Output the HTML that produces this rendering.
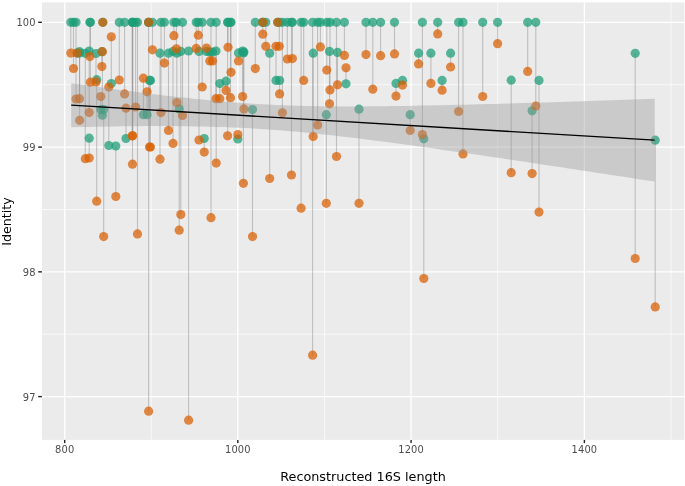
<!DOCTYPE html><html><head><meta charset="utf-8"><title>plot</title><style>html,body{margin:0;padding:0;background:#fff}svg{display:block}text{font-family:"DejaVu Sans","Liberation Sans",sans-serif}</style></head><body>
<svg width="685" height="486" viewBox="0 0 685 486">
<rect x="0" y="0" width="685" height="486" fill="#fff"/>
<rect x="41.9" y="2.4" width="642.4" height="437.5" fill="#EBEBEB"/>
<clipPath id="c"><rect x="41.9" y="2.4" width="642.4" height="437.5"/></clipPath>
<g stroke="#fff" stroke-opacity="0.95" stroke-width="0.7">
<line x1="151.2" y1="2.4" x2="151.2" y2="439.9"/>
<line x1="324.5" y1="2.4" x2="324.5" y2="439.9"/>
<line x1="497.7" y1="2.4" x2="497.7" y2="439.9"/>
<line x1="671.0" y1="2.4" x2="671.0" y2="439.9"/>
<line x1="41.9" y1="84.7" x2="684.3" y2="84.7"/>
<line x1="41.9" y1="209.5" x2="684.3" y2="209.5"/>
<line x1="41.9" y1="334.2" x2="684.3" y2="334.2"/>
</g><g stroke="#fff" stroke-width="1.3">
<line x1="64.7" y1="2.4" x2="64.7" y2="439.9"/>
<line x1="237.8" y1="2.4" x2="237.8" y2="439.9"/>
<line x1="411.1" y1="2.4" x2="411.1" y2="439.9"/>
<line x1="584.4" y1="2.4" x2="584.4" y2="439.9"/>
<line x1="41.9" y1="22.3" x2="684.3" y2="22.3"/>
<line x1="41.9" y1="147.1" x2="684.3" y2="147.1"/>
<line x1="41.9" y1="271.85" x2="684.3" y2="271.85"/>
<line x1="41.9" y1="396.6" x2="684.3" y2="396.6"/>
</g>
<g stroke="#808080" stroke-opacity="0.42" stroke-width="1.1">
<line x1="70.8" y1="22.3" x2="70.8" y2="53.1"/>
<line x1="73.5" y1="22.3" x2="73.5" y2="68.5"/>
<line x1="76" y1="22.3" x2="76" y2="99"/>
<line x1="79.5" y1="51.7" x2="79.5" y2="98.7"/>
<line x1="79.6" y1="53.1" x2="79.6" y2="120.3"/>
<line x1="85.3" y1="53.3" x2="85.3" y2="158.7"/>
<line x1="89.9" y1="22.3" x2="89.9" y2="56.6"/>
<line x1="90.4" y1="22.3" x2="90.4" y2="82.2"/>
<line x1="89.2" y1="51" x2="89.2" y2="112.6"/>
<line x1="89.2" y1="138.2" x2="89.2" y2="158"/>
<line x1="96" y1="53.5" x2="96" y2="81.9"/>
<line x1="96.7" y1="79.7" x2="96.7" y2="201.2"/>
<line x1="101.9" y1="51.7" x2="101.9" y2="66.6"/>
<line x1="102.4" y1="115.2" x2="102.4" y2="51.7"/>
<line x1="100.8" y1="109.6" x2="100.8" y2="96.5"/>
<line x1="103.7" y1="109.6" x2="103.7" y2="236.6"/>
<line x1="108.8" y1="145.5" x2="108.8" y2="87"/>
<line x1="111.3" y1="83.6" x2="111.3" y2="36.8"/>
<line x1="115.8" y1="146" x2="115.8" y2="196.5"/>
<line x1="119.3" y1="22.3" x2="119.3" y2="80"/>
<line x1="124.6" y1="22.3" x2="124.6" y2="93.9"/>
<line x1="126" y1="138.5" x2="126" y2="108.2"/>
<line x1="132.2" y1="22.3" x2="132.2" y2="135.8"/>
<line x1="132.8" y1="22.3" x2="132.8" y2="135.8"/>
<line x1="132.5" y1="22.3" x2="132.5" y2="164.2"/>
<line x1="135.6" y1="22.3" x2="135.6" y2="107"/>
<line x1="137.5" y1="22.3" x2="137.5" y2="233.9"/>
<line x1="143.4" y1="114.7" x2="143.4" y2="78.2"/>
<line x1="147.1" y1="114.7" x2="147.1" y2="91.8"/>
<line x1="148.6" y1="22.3" x2="148.6" y2="411.2"/>
<line x1="149.5" y1="80.4" x2="149.5" y2="147"/>
<line x1="150.5" y1="80.4" x2="150.5" y2="147"/>
<line x1="152.4" y1="22.3" x2="152.4" y2="49.8"/>
<line x1="160.0" y1="53.2" x2="160.0" y2="159.2"/>
<line x1="161.0" y1="22.3" x2="161.0" y2="112.6"/>
<line x1="164.4" y1="22.3" x2="164.4" y2="63.1"/>
<line x1="168.5" y1="53.2" x2="168.5" y2="130.4"/>
<line x1="173.9" y1="22.3" x2="173.9" y2="35.7"/>
<line x1="173" y1="51.4" x2="173" y2="143.4"/>
<line x1="176.4" y1="22.3" x2="176.4" y2="48.8"/>
<line x1="176.8" y1="53.2" x2="176.8" y2="102.6"/>
<line x1="180.8" y1="51.4" x2="180.8" y2="214.6"/>
<line x1="179.2" y1="108.9" x2="179.2" y2="230.2"/>
<line x1="182.5" y1="22.3" x2="182.5" y2="115.5"/>
<line x1="188.6" y1="51" x2="188.6" y2="420.2"/>
<line x1="196.2" y1="22.3" x2="196.2" y2="48.4"/>
<line x1="198.3" y1="22.3" x2="198.3" y2="35.2"/>
<line x1="199" y1="51.4" x2="199" y2="140"/>
<line x1="202.2" y1="22.3" x2="202.2" y2="87"/>
<line x1="204.2" y1="138.5" x2="204.2" y2="152.1"/>
<line x1="206.5" y1="51.4" x2="206.5" y2="48.1"/>
<line x1="211" y1="22.3" x2="211" y2="217.7"/>
<line x1="212.5" y1="52" x2="212.5" y2="60.9"/>
<line x1="209.8" y1="52" x2="209.8" y2="60.9"/>
<line x1="216.2" y1="22.3" x2="216.2" y2="163.1"/>
<line x1="216" y1="51" x2="216" y2="98.7"/>
<line x1="219.8" y1="83.6" x2="219.8" y2="98.7"/>
<line x1="226" y1="81.2" x2="226" y2="90.4"/>
<line x1="227.6" y1="22.3" x2="227.6" y2="135.8"/>
<line x1="228.0" y1="22.3" x2="228.0" y2="47.3"/>
<line x1="230.5" y1="22.3" x2="230.5" y2="97.7"/>
<line x1="231" y1="22.3" x2="231" y2="72.3"/>
<line x1="237.8" y1="139" x2="237.8" y2="134.6"/>
<line x1="238.5" y1="52.9" x2="238.5" y2="61"/>
<line x1="242.6" y1="51" x2="242.6" y2="96.5"/>
<line x1="243.4" y1="53" x2="243.4" y2="183.3"/>
<line x1="243.9" y1="52" x2="243.9" y2="108.9"/>
<line x1="252.5" y1="109.6" x2="252.5" y2="236.6"/>
<line x1="255.3" y1="22.3" x2="255.3" y2="68.6"/>
<line x1="262.8" y1="22.3" x2="262.8" y2="34.2"/>
<line x1="265.8" y1="22.3" x2="265.8" y2="46.3"/>
<line x1="269.7" y1="53.2" x2="269.7" y2="178.5"/>
<line x1="276" y1="80.4" x2="276" y2="46.3"/>
<line x1="279.3" y1="22.3" x2="279.3" y2="46.3"/>
<line x1="279.6" y1="80.4" x2="279.6" y2="93.9"/>
<line x1="282.4" y1="22.3" x2="282.4" y2="112.8"/>
<line x1="287.3" y1="22.3" x2="287.3" y2="59"/>
<line x1="292.4" y1="22.3" x2="292.4" y2="58.6"/>
<line x1="291.5" y1="22.3" x2="291.5" y2="175"/>
<line x1="301.1" y1="22.3" x2="301.1" y2="208.2"/>
<line x1="303.7" y1="22.3" x2="303.7" y2="80.4"/>
<line x1="312.6" y1="22.3" x2="312.6" y2="355.2"/>
<line x1="313.2" y1="53.2" x2="313.2" y2="136.4"/>
<line x1="317.6" y1="22.3" x2="317.6" y2="125"/>
<line x1="320.4" y1="22.3" x2="320.4" y2="46.9"/>
<line x1="326.3" y1="114.7" x2="326.3" y2="203.3"/>
<line x1="326.8" y1="22.3" x2="326.8" y2="70.1"/>
<line x1="330" y1="22.3" x2="330" y2="89.9"/>
<line x1="329.5" y1="51.4" x2="329.5" y2="103.8"/>
<line x1="336.5" y1="22.3" x2="336.5" y2="156.5"/>
<line x1="337.5" y1="52.4" x2="337.5" y2="84.8"/>
<line x1="344.4" y1="22.3" x2="344.4" y2="55.4"/>
<line x1="346" y1="83.8" x2="346" y2="67.8"/>
<line x1="359" y1="109.2" x2="359" y2="203.3"/>
<line x1="366" y1="22.3" x2="366" y2="54.6"/>
<line x1="372.8" y1="22.3" x2="372.8" y2="89.2"/>
<line x1="380.6" y1="22.3" x2="380.6" y2="55.7"/>
<line x1="394.5" y1="22.3" x2="394.5" y2="53.9"/>
<line x1="396" y1="83.4" x2="396" y2="96.1"/>
<line x1="402.5" y1="80.4" x2="402.5" y2="85.1"/>
<line x1="410.2" y1="114.7" x2="410.2" y2="130.4"/>
<line x1="418.6" y1="53.2" x2="418.6" y2="63.9"/>
<line x1="422.4" y1="22.3" x2="422.4" y2="134.6"/>
<line x1="423.8" y1="138.8" x2="423.8" y2="278.5"/>
<line x1="430.9" y1="53.2" x2="430.9" y2="83.4"/>
<line x1="437.7" y1="22.3" x2="437.7" y2="33.9"/>
<line x1="442.1" y1="80.4" x2="442.1" y2="90.2"/>
<line x1="450.6" y1="53.2" x2="450.6" y2="67"/>
<line x1="458.6" y1="22.3" x2="458.6" y2="111.5"/>
<line x1="463" y1="22.3" x2="463" y2="153.9"/>
<line x1="482.7" y1="22.3" x2="482.7" y2="96.5"/>
<line x1="497.6" y1="22.3" x2="497.6" y2="43.7"/>
<line x1="511.2" y1="80.2" x2="511.2" y2="172.7"/>
<line x1="527.7" y1="22.3" x2="527.7" y2="71.4"/>
<line x1="532.1" y1="110.8" x2="532.1" y2="173.6"/>
<line x1="535.8" y1="22.3" x2="535.8" y2="106"/>
<line x1="539" y1="80.4" x2="539" y2="212.1"/>
<line x1="635.2" y1="53.3" x2="635.2" y2="258.5"/>
<line x1="655.2" y1="140.2" x2="655.2" y2="306.9"/>
</g>
<g fill="#1B9E77" fill-opacity="0.73">
<circle cx="70.8" cy="22.3" r="4.6"/>
<circle cx="73.5" cy="22.3" r="4.6"/>
<circle cx="76" cy="22.3" r="4.6"/>
<circle cx="77.2" cy="53.1" r="4.6"/>
<circle cx="79.5" cy="51.7" r="4.6"/>
<circle cx="79.6" cy="53.1" r="4.6"/>
<circle cx="85.3" cy="53.3" r="4.6"/>
<circle cx="89.9" cy="22.3" r="4.6"/>
<circle cx="90.4" cy="22.3" r="4.6"/>
<circle cx="89.2" cy="51" r="4.6"/>
<circle cx="89.2" cy="138.2" r="4.6"/>
<circle cx="96" cy="53.5" r="4.6"/>
<circle cx="96.7" cy="79.7" r="4.6"/>
<circle cx="102.8" cy="22.3" r="4.6"/>
<circle cx="101.9" cy="51.7" r="4.6"/>
<circle cx="102.4" cy="115.2" r="4.6"/>
<circle cx="100.8" cy="109.6" r="4.6"/>
<circle cx="103.7" cy="109.6" r="4.6"/>
<circle cx="108.8" cy="145.5" r="4.6"/>
<circle cx="111.3" cy="83.6" r="4.6"/>
<circle cx="115.8" cy="146" r="4.6"/>
<circle cx="119.3" cy="22.3" r="4.6"/>
<circle cx="124.6" cy="22.3" r="4.6"/>
<circle cx="126" cy="138.5" r="4.6"/>
<circle cx="132.2" cy="22.3" r="4.6"/>
<circle cx="132.8" cy="22.3" r="4.6"/>
<circle cx="132.5" cy="22.3" r="4.6"/>
<circle cx="135.6" cy="22.3" r="4.6"/>
<circle cx="137.5" cy="22.3" r="4.6"/>
<circle cx="143.4" cy="114.7" r="4.6"/>
<circle cx="147.1" cy="114.7" r="4.6"/>
<circle cx="148.6" cy="22.3" r="4.6"/>
<circle cx="148.6" cy="22.3" r="4.6"/>
<circle cx="149.5" cy="80.4" r="4.6"/>
<circle cx="150.5" cy="80.4" r="4.6"/>
<circle cx="152.4" cy="22.3" r="4.6"/>
<circle cx="160.0" cy="53.2" r="4.6"/>
<circle cx="161.0" cy="22.3" r="4.6"/>
<circle cx="164.4" cy="22.3" r="4.6"/>
<circle cx="168.5" cy="53.2" r="4.6"/>
<circle cx="173.9" cy="22.3" r="4.6"/>
<circle cx="173" cy="51.4" r="4.6"/>
<circle cx="176.4" cy="22.3" r="4.6"/>
<circle cx="176.8" cy="53.2" r="4.6"/>
<circle cx="180.8" cy="51.4" r="4.6"/>
<circle cx="179.2" cy="108.9" r="4.6"/>
<circle cx="182.5" cy="22.3" r="4.6"/>
<circle cx="188.6" cy="51" r="4.6"/>
<circle cx="196.2" cy="22.3" r="4.6"/>
<circle cx="198.3" cy="22.3" r="4.6"/>
<circle cx="199" cy="51.4" r="4.6"/>
<circle cx="202.2" cy="22.3" r="4.6"/>
<circle cx="204.2" cy="138.5" r="4.6"/>
<circle cx="206.5" cy="51.4" r="4.6"/>
<circle cx="211" cy="22.3" r="4.6"/>
<circle cx="212.5" cy="52" r="4.6"/>
<circle cx="209.8" cy="52" r="4.6"/>
<circle cx="216.2" cy="22.3" r="4.6"/>
<circle cx="216" cy="51" r="4.6"/>
<circle cx="219.8" cy="83.6" r="4.6"/>
<circle cx="226" cy="81.2" r="4.6"/>
<circle cx="227.6" cy="22.3" r="4.6"/>
<circle cx="228.0" cy="22.3" r="4.6"/>
<circle cx="230.5" cy="22.3" r="4.6"/>
<circle cx="231" cy="22.3" r="4.6"/>
<circle cx="237.8" cy="139" r="4.6"/>
<circle cx="238.5" cy="52.9" r="4.6"/>
<circle cx="242.6" cy="51" r="4.6"/>
<circle cx="243.4" cy="53" r="4.6"/>
<circle cx="243.9" cy="52" r="4.6"/>
<circle cx="252.5" cy="109.6" r="4.6"/>
<circle cx="255.3" cy="22.3" r="4.6"/>
<circle cx="262.8" cy="22.3" r="4.6"/>
<circle cx="262.8" cy="22.3" r="4.6"/>
<circle cx="265.8" cy="22.3" r="4.6"/>
<circle cx="269.7" cy="53.2" r="4.6"/>
<circle cx="276" cy="80.4" r="4.6"/>
<circle cx="279.3" cy="22.3" r="4.6"/>
<circle cx="277.7" cy="22.3" r="4.6"/>
<circle cx="279.6" cy="80.4" r="4.6"/>
<circle cx="282.4" cy="22.3" r="4.6"/>
<circle cx="287.3" cy="22.3" r="4.6"/>
<circle cx="292.4" cy="22.3" r="4.6"/>
<circle cx="291.5" cy="22.3" r="4.6"/>
<circle cx="301.1" cy="22.3" r="4.6"/>
<circle cx="303.7" cy="22.3" r="4.6"/>
<circle cx="312.6" cy="22.3" r="4.6"/>
<circle cx="313.2" cy="53.2" r="4.6"/>
<circle cx="317.6" cy="22.3" r="4.6"/>
<circle cx="320.4" cy="22.3" r="4.6"/>
<circle cx="326.3" cy="114.7" r="4.6"/>
<circle cx="326.8" cy="22.3" r="4.6"/>
<circle cx="330" cy="22.3" r="4.6"/>
<circle cx="329.5" cy="51.4" r="4.6"/>
<circle cx="336.5" cy="22.3" r="4.6"/>
<circle cx="337.5" cy="52.4" r="4.6"/>
<circle cx="344.4" cy="22.3" r="4.6"/>
<circle cx="346" cy="83.8" r="4.6"/>
<circle cx="359" cy="109.2" r="4.6"/>
<circle cx="366" cy="22.3" r="4.6"/>
<circle cx="372.8" cy="22.3" r="4.6"/>
<circle cx="380.6" cy="22.3" r="4.6"/>
<circle cx="394.5" cy="22.3" r="4.6"/>
<circle cx="396" cy="83.4" r="4.6"/>
<circle cx="402.5" cy="80.4" r="4.6"/>
<circle cx="410.2" cy="114.7" r="4.6"/>
<circle cx="418.6" cy="53.2" r="4.6"/>
<circle cx="422.4" cy="22.3" r="4.6"/>
<circle cx="423.8" cy="138.8" r="4.6"/>
<circle cx="430.9" cy="53.2" r="4.6"/>
<circle cx="437.7" cy="22.3" r="4.6"/>
<circle cx="442.1" cy="80.4" r="4.6"/>
<circle cx="450.6" cy="53.2" r="4.6"/>
<circle cx="458.6" cy="22.3" r="4.6"/>
<circle cx="463" cy="22.3" r="4.6"/>
<circle cx="482.7" cy="22.3" r="4.6"/>
<circle cx="497.6" cy="22.3" r="4.6"/>
<circle cx="511.2" cy="80.2" r="4.6"/>
<circle cx="527.7" cy="22.3" r="4.6"/>
<circle cx="532.1" cy="110.8" r="4.6"/>
<circle cx="535.8" cy="22.3" r="4.6"/>
<circle cx="539" cy="80.4" r="4.6"/>
<circle cx="635.2" cy="53.3" r="4.6"/>
<circle cx="655.2" cy="140.2" r="4.6"/>
</g>
<g fill="#D95F02" fill-opacity="0.73">
<circle cx="70.8" cy="53.1" r="4.6"/>
<circle cx="73.5" cy="68.5" r="4.6"/>
<circle cx="76" cy="99" r="4.6"/>
<circle cx="77.2" cy="53.1" r="4.6"/>
<circle cx="79.5" cy="98.7" r="4.6"/>
<circle cx="79.6" cy="120.3" r="4.6"/>
<circle cx="85.3" cy="158.7" r="4.6"/>
<circle cx="89.9" cy="56.6" r="4.6"/>
<circle cx="90.4" cy="82.2" r="4.6"/>
<circle cx="89.2" cy="112.6" r="4.6"/>
<circle cx="89.2" cy="158" r="4.6"/>
<circle cx="96" cy="81.9" r="4.6"/>
<circle cx="96.7" cy="201.2" r="4.6"/>
<circle cx="102.8" cy="22.3" r="4.6"/>
<circle cx="101.9" cy="66.6" r="4.6"/>
<circle cx="102.4" cy="51.7" r="4.6"/>
<circle cx="100.8" cy="96.5" r="4.6"/>
<circle cx="103.7" cy="236.6" r="4.6"/>
<circle cx="108.8" cy="87" r="4.6"/>
<circle cx="111.3" cy="36.8" r="4.6"/>
<circle cx="115.8" cy="196.5" r="4.6"/>
<circle cx="119.3" cy="80" r="4.6"/>
<circle cx="124.6" cy="93.9" r="4.6"/>
<circle cx="126" cy="108.2" r="4.6"/>
<circle cx="132.2" cy="135.8" r="4.6"/>
<circle cx="132.8" cy="135.8" r="4.6"/>
<circle cx="132.5" cy="164.2" r="4.6"/>
<circle cx="135.6" cy="107" r="4.6"/>
<circle cx="137.5" cy="233.9" r="4.6"/>
<circle cx="143.4" cy="78.2" r="4.6"/>
<circle cx="147.1" cy="91.8" r="4.6"/>
<circle cx="148.6" cy="411.2" r="4.6"/>
<circle cx="148.6" cy="22.3" r="4.6"/>
<circle cx="149.5" cy="147" r="4.6"/>
<circle cx="150.5" cy="147" r="4.6"/>
<circle cx="152.4" cy="49.8" r="4.6"/>
<circle cx="160.0" cy="159.2" r="4.6"/>
<circle cx="161.0" cy="112.6" r="4.6"/>
<circle cx="164.4" cy="63.1" r="4.6"/>
<circle cx="168.5" cy="130.4" r="4.6"/>
<circle cx="173.9" cy="35.7" r="4.6"/>
<circle cx="173" cy="143.4" r="4.6"/>
<circle cx="176.4" cy="48.8" r="4.6"/>
<circle cx="176.8" cy="102.6" r="4.6"/>
<circle cx="180.8" cy="214.6" r="4.6"/>
<circle cx="179.2" cy="230.2" r="4.6"/>
<circle cx="182.5" cy="115.5" r="4.6"/>
<circle cx="188.6" cy="420.2" r="4.6"/>
<circle cx="196.2" cy="48.4" r="4.6"/>
<circle cx="198.3" cy="35.2" r="4.6"/>
<circle cx="199" cy="140" r="4.6"/>
<circle cx="202.2" cy="87" r="4.6"/>
<circle cx="204.2" cy="152.1" r="4.6"/>
<circle cx="206.5" cy="48.1" r="4.6"/>
<circle cx="211" cy="217.7" r="4.6"/>
<circle cx="212.5" cy="60.9" r="4.6"/>
<circle cx="209.8" cy="60.9" r="4.6"/>
<circle cx="216.2" cy="163.1" r="4.6"/>
<circle cx="216" cy="98.7" r="4.6"/>
<circle cx="219.8" cy="98.7" r="4.6"/>
<circle cx="226" cy="90.4" r="4.6"/>
<circle cx="227.6" cy="135.8" r="4.6"/>
<circle cx="228.0" cy="47.3" r="4.6"/>
<circle cx="230.5" cy="97.7" r="4.6"/>
<circle cx="231" cy="72.3" r="4.6"/>
<circle cx="237.8" cy="134.6" r="4.6"/>
<circle cx="238.5" cy="61" r="4.6"/>
<circle cx="242.6" cy="96.5" r="4.6"/>
<circle cx="243.4" cy="183.3" r="4.6"/>
<circle cx="243.9" cy="108.9" r="4.6"/>
<circle cx="252.5" cy="236.6" r="4.6"/>
<circle cx="255.3" cy="68.6" r="4.6"/>
<circle cx="262.8" cy="22.3" r="4.6"/>
<circle cx="262.8" cy="34.2" r="4.6"/>
<circle cx="265.8" cy="46.3" r="4.6"/>
<circle cx="269.7" cy="178.5" r="4.6"/>
<circle cx="276" cy="46.3" r="4.6"/>
<circle cx="279.3" cy="46.3" r="4.6"/>
<circle cx="277.7" cy="22.3" r="4.6"/>
<circle cx="279.6" cy="93.9" r="4.6"/>
<circle cx="282.4" cy="112.8" r="4.6"/>
<circle cx="287.3" cy="59" r="4.6"/>
<circle cx="292.4" cy="58.6" r="4.6"/>
<circle cx="291.5" cy="175" r="4.6"/>
<circle cx="301.1" cy="208.2" r="4.6"/>
<circle cx="303.7" cy="80.4" r="4.6"/>
<circle cx="312.6" cy="355.2" r="4.6"/>
<circle cx="313.2" cy="136.4" r="4.6"/>
<circle cx="317.6" cy="125" r="4.6"/>
<circle cx="320.4" cy="46.9" r="4.6"/>
<circle cx="326.3" cy="203.3" r="4.6"/>
<circle cx="326.8" cy="70.1" r="4.6"/>
<circle cx="330" cy="89.9" r="4.6"/>
<circle cx="329.5" cy="103.8" r="4.6"/>
<circle cx="336.5" cy="156.5" r="4.6"/>
<circle cx="337.5" cy="84.8" r="4.6"/>
<circle cx="344.4" cy="55.4" r="4.6"/>
<circle cx="346" cy="67.8" r="4.6"/>
<circle cx="359" cy="203.3" r="4.6"/>
<circle cx="366" cy="54.6" r="4.6"/>
<circle cx="372.8" cy="89.2" r="4.6"/>
<circle cx="380.6" cy="55.7" r="4.6"/>
<circle cx="394.5" cy="53.9" r="4.6"/>
<circle cx="396" cy="96.1" r="4.6"/>
<circle cx="402.5" cy="85.1" r="4.6"/>
<circle cx="410.2" cy="130.4" r="4.6"/>
<circle cx="418.6" cy="63.9" r="4.6"/>
<circle cx="422.4" cy="134.6" r="4.6"/>
<circle cx="423.8" cy="278.5" r="4.6"/>
<circle cx="430.9" cy="83.4" r="4.6"/>
<circle cx="437.7" cy="33.9" r="4.6"/>
<circle cx="442.1" cy="90.2" r="4.6"/>
<circle cx="450.6" cy="67" r="4.6"/>
<circle cx="458.6" cy="111.5" r="4.6"/>
<circle cx="463" cy="153.9" r="4.6"/>
<circle cx="482.7" cy="96.5" r="4.6"/>
<circle cx="497.6" cy="43.7" r="4.6"/>
<circle cx="511.2" cy="172.7" r="4.6"/>
<circle cx="527.7" cy="71.4" r="4.6"/>
<circle cx="532.1" cy="173.6" r="4.6"/>
<circle cx="535.8" cy="106" r="4.6"/>
<circle cx="539" cy="212.1" r="4.6"/>
<circle cx="635.2" cy="258.5" r="4.6"/>
<circle cx="655.2" cy="306.9" r="4.6"/>
</g>
<path d="M71.2,83.2 L78.5,84.2 L85.8,85.2 L93.1,86.2 L100.4,87.2 L107.7,88.2 L115.0,89.2 L122.3,90.2 L129.6,91.1 L136.8,92.1 L144.1,93.0 L151.4,93.9 L158.7,94.8 L166.0,95.7 L173.3,96.5 L180.6,97.3 L187.9,98.1 L195.2,98.9 L202.5,99.6 L209.8,100.3 L217.1,101.0 L224.4,101.6 L231.7,102.2 L239.0,102.8 L246.2,103.3 L253.5,103.8 L260.8,104.2 L268.1,104.6 L275.4,104.9 L282.7,105.2 L290.0,105.5 L297.3,105.7 L304.6,105.9 L311.9,106.1 L319.2,106.2 L326.5,106.3 L333.8,106.3 L341.1,106.4 L348.4,106.4 L355.7,106.4 L362.9,106.4 L370.2,106.3 L377.5,106.3 L384.8,106.2 L392.1,106.1 L399.4,106.0 L406.7,105.9 L414.0,105.8 L421.3,105.6 L428.6,105.5 L435.9,105.3 L443.2,105.2 L450.5,105.0 L457.8,104.8 L465.1,104.7 L472.4,104.5 L479.6,104.3 L486.9,104.1 L494.2,103.9 L501.5,103.7 L508.8,103.5 L516.1,103.3 L523.4,103.0 L530.7,102.8 L538.0,102.6 L545.3,102.4 L552.6,102.2 L559.9,101.9 L567.2,101.7 L574.5,101.5 L581.8,101.2 L589.1,101.0 L596.4,100.7 L603.6,100.5 L610.9,100.3 L618.2,100.0 L625.5,99.8 L632.8,99.5 L640.1,99.3 L647.4,99.0 L654.7,98.8 L654.7,181.6 L647.4,180.5 L640.1,179.4 L632.8,178.3 L625.5,177.1 L618.2,176.0 L610.9,174.9 L603.6,173.8 L596.4,172.7 L589.1,171.5 L581.8,170.4 L574.5,169.3 L567.2,168.2 L559.9,167.1 L552.6,166.0 L545.3,164.9 L538.0,163.8 L530.7,162.7 L523.4,161.6 L516.1,160.5 L508.8,159.4 L501.5,158.3 L494.2,157.3 L486.9,156.2 L479.6,155.1 L472.4,154.1 L465.1,153.0 L457.8,151.9 L450.5,150.9 L443.2,149.9 L435.9,148.8 L428.6,147.8 L421.3,146.8 L414.0,145.8 L406.7,144.8 L399.4,143.8 L392.1,142.8 L384.8,141.8 L377.5,140.9 L370.2,139.9 L362.9,139.0 L355.7,138.1 L348.4,137.3 L341.1,136.4 L333.8,135.6 L326.5,134.8 L319.2,134.0 L311.9,133.2 L304.6,132.5 L297.3,131.8 L290.0,131.2 L282.7,130.6 L275.4,130.0 L268.1,129.5 L260.8,129.0 L253.5,128.5 L246.2,128.1 L239.0,127.7 L231.7,127.4 L224.4,127.1 L217.1,126.9 L209.8,126.7 L202.5,126.5 L195.2,126.4 L187.9,126.3 L180.6,126.2 L173.3,126.1 L166.0,126.1 L158.7,126.1 L151.4,126.1 L144.1,126.1 L136.8,126.2 L129.6,126.3 L122.3,126.3 L115.0,126.4 L107.7,126.5 L100.4,126.7 L93.1,126.8 L85.8,126.9 L78.5,127.1 L71.2,127.2Z" fill="#999999" fill-opacity="0.4"/>
<line x1="71.2" y1="105.2" x2="654.7" y2="140.2" stroke="#000" stroke-width="1.35"/>
<g stroke="#222" stroke-width="1.4">
<line x1="64.7" y1="439.9" x2="64.7" y2="443.09999999999997"/>
<line x1="237.8" y1="439.9" x2="237.8" y2="443.09999999999997"/>
<line x1="411.1" y1="439.9" x2="411.1" y2="443.09999999999997"/>
<line x1="584.4" y1="439.9" x2="584.4" y2="443.09999999999997"/>
<line x1="38.199999999999996" y1="22.3" x2="41.9" y2="22.3"/>
<line x1="38.199999999999996" y1="147.1" x2="41.9" y2="147.1"/>
<line x1="38.199999999999996" y1="271.85" x2="41.9" y2="271.85"/>
<line x1="38.199999999999996" y1="396.6" x2="41.9" y2="396.6"/>
</g>
<g font-size="9.9px" letter-spacing="0.12" fill="#4D4D4D">
<text x="64.7" y="453.4" text-anchor="middle">800</text>
<text x="237.8" y="453.4" text-anchor="middle">1000</text>
<text x="411.1" y="453.4" text-anchor="middle">1200</text>
<text x="584.4" y="453.4" text-anchor="middle">1400</text>
<text x="35.6" y="26.2" text-anchor="end">100</text>
<text x="35.6" y="151.0" text-anchor="end">99</text>
<text x="35.6" y="275.75" text-anchor="end">98</text>
<text x="35.6" y="400.5" text-anchor="end">97</text>
</g>
<text x="363" y="481.1" font-size="12.8px" text-anchor="middle" fill="#000">Reconstructed 16S length</text>
<text transform="translate(11.2,221.5) rotate(-90)" font-size="12.7px" text-anchor="middle" fill="#000">Identity</text>
</svg></body></html>
